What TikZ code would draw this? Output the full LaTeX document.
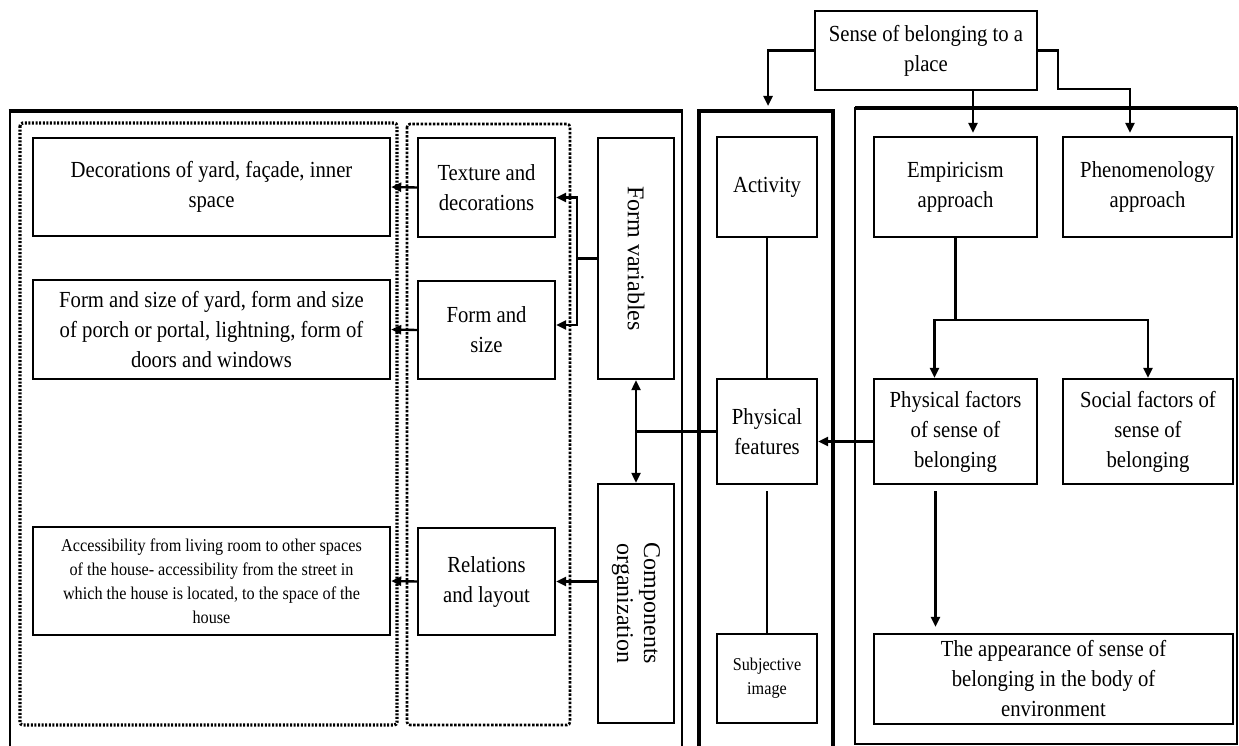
\documentclass[tikz,border=0pt]{standalone}
\usepackage{fontspec}
\setmainfont{Liberation Serif}[FakeStretch=0.9]
\newfontfamily\rotfont{Liberation Serif}
\usetikzlibrary{arrows.meta,calc}
\begin{document}
\begin{tikzpicture}[x=1pt,y=-1pt,
  box/.style={draw, line width=2.4pt, inner sep=0pt, align=center, font=\fontsize{23}{30}\selectfont},
  smallbox/.style={box, font=\fontsize{18}{24}\selectfont},
  rottext/.style={rotate=-90, align=center, inner sep=0pt, font=\rotfont\fontsize{24}{27}\selectfont},
  tip/.style={-{Triangle[length=10pt,width=9pt]}},
  arr/.style={line width=2.4pt, tip},
  ln/.style={line width=2.2pt},
  thickframe/.style={line width=3.6pt},
  thinframe/.style={line width=2.6pt},
  dotA/.style={line width=3.2pt, dash pattern=on 2pt off 1.6pt, rounded corners=3pt},
  dotB/.style={line width=2.6pt, dash pattern=on 2.5pt off 1.6pt, rounded corners=3pt},
  ]
\useasboundingbox[fill=white] (0,0) rectangle (1239,746);

% frames
\draw[thinframe] (10,770) -- (10,111);
\draw[thinframe] (682,111) -- (682,770);
\draw[thickframe] (8.7,111) -- (683.3,111);
\draw[thickframe] (699,770) |- (833,111) -- (833,770);
\draw[thinframe] (855,108) rectangle (1237,744);
\draw[thickframe] (855,108) -- (1237,108);

% dotted groups
\draw[dotA] (20,123) rectangle (397,725);
\draw[dotB] (407,124) rectangle (570,725);

% top node
\node[box, minimum width=222, minimum height=79] (sense) at (926,50.5) {Sense of belonging to a\\place};

% middle column
\node[box, minimum width=100, minimum height=100] (act) at (767,187) {Activity};
\node[box, minimum width=100, minimum height=105] (phys) at (767,431.5) {Physical\\features};
\node[smallbox, minimum width=100, minimum height=89] (subj) at (767,678.5) {Subjective\\image};

% right column
\node[box, minimum width=163, minimum height=100] (emp) at (955.5,187) {Empiricism\\approach};
\node[box, minimum width=169, minimum height=100] (phen) at (1147.5,187) {Phenomenology\\approach};
\node[box, minimum width=163, minimum height=105] (pf) at (955.5,431.5) {Physical factors\\of sense of\\belonging};
\node[box, minimum width=170, minimum height=105] (sf) at (1148,431.5) {Social factors of\\sense of\\belonging};
\node[box, minimum width=359, minimum height=90] (app) at (1053.5,679) {The appearance of sense of\\belonging in the body of\\environment};

% left column
\node[box, minimum width=357, minimum height=98] (dec) at (211.5,187) {Decorations of yard, façade, inner\\space};
\node[box, minimum width=357, minimum height=99] (fsl) at (211.5,329.5) {Form and size of yard, form and size\\of porch or portal, lightning, form of\\doors and windows};
\node[smallbox, minimum width=357, minimum height=108] (acc) at (211.5,581) {Accessibility from living room to other spaces\\of the house- accessibility from the street in\\which the house is located, to the space of the\\house};

\node[box, minimum width=137, minimum height=99] (tex) at (486.5,187.5) {Texture and\\decorations};
\node[box, minimum width=137, minimum height=98] (fs) at (486.5,330) {Form and\\size};
\node[box, minimum width=137, minimum height=107] (rel) at (486.5,581.5) {Relations\\and layout};

\node[box, minimum width=76, minimum height=241] (fv) at (636,258.5) {};
\node[rottext] (fvt) at (fv.center) {Form variables};
\node[box, minimum width=76, minimum height=239] (co) at (636,603.5) {};
\node[rottext] (cot) at (co.center) {Components\\organization};

% connectors from top
\coordinate (mtop) at (768,106);
\draw[arr] (sense.west) -| (mtop);
\coordinate (ea) at ($(emp.north)+(17.5,-3)$);
\draw[arr] (sense.south -| ea) -- (ea);
\coordinate (pa) at ($(phen.north)+(-17.5,-3)$);
\draw[arr] (sense.east) -- ++(20,0) |- (pa |- 0,89) -- (pa);

% middle column links
\draw[ln] (act.south) -- (phys.north);
\draw[ln, shorten <=6pt] (phys.south) -- (subj.north);
\draw[arr] ([yshift=-10pt]pf.west) -- ([yshift=-10pt]phys.east);
\draw[ln] (phys.west) -- (phys.west -| fv.south);
\draw[ln, {Triangle[length=10pt,width=9pt]}-{Triangle[length=10pt,width=9pt]}] (fv.south) -- (co.north);

% right column links
\draw[ln] (emp.south) -- ++(0,82) coordinate (j);
\draw[arr] (j) -| ([xshift=-21pt]pf.north);
\draw[arr] (j) -| (sf.north);
\coordinate (ps) at ($(pf.south)+(-20,6)$);
\draw[line width=3.4pt, tip, shorten >=6pt] (ps) -- (ps |- app.north);

% left links
\draw[arr] (fv.west) -- ++(-20,0) |- ([yshift=-10pt]tex.east);
\draw[arr] (fv.west) -- ++(-20,0) |- ([yshift=5pt]fs.east);
\draw[arr] (co.west |- rel.east) -- (rel.east);
\draw[arr] (tex.west) -- (dec.east);
\draw[arr] (fs.west) -- (fsl.east);
\draw[arr] (rel.west) -- (acc.east);
\end{tikzpicture}
\end{document}
